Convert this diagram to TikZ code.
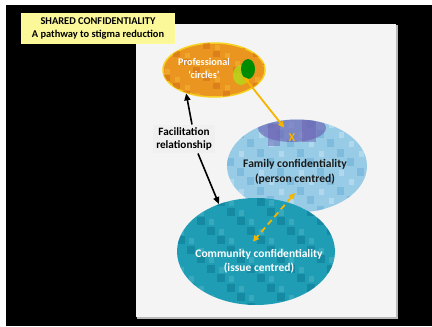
\documentclass[tikz,border=0pt]{standalone}
\usepackage{fontspec}
\setmainfont{Carlito}
\usetikzlibrary{shapes.geometric,arrows.meta}
\definecolor{panel}{HTML}{F4F4F4}
\definecolor{titleYellow}{HTML}{FBF89A}
\definecolor{profOrange}{HTML}{E9951F}
\definecolor{profDark}{HTML}{D9771A}
\definecolor{profLight}{HTML}{F2B233}
\definecolor{famBlue}{HTML}{98CCE6}
\definecolor{famDark}{HTML}{6FB0D8}
\definecolor{famPurple}{HTML}{6D63B5}
\definecolor{commTeal}{HTML}{1E9DB5}
\definecolor{commDark}{HTML}{14819B}
\definecolor{arrowGold}{HTML}{F5B500}
\tikzset{
  blob/.style={ellipse, inner sep=0pt},
  bold text/.style={font=\bfseries\fontsize{11.5}{14}\selectfont, align=center},
  gold link/.style={arrowGold, line width=1.8pt, {Triangle[length=6pt,width=6pt]}-{Triangle[length=6pt,width=6pt]}},
  black link/.style={black, line width=1.6pt, -{Triangle[length=7pt,width=6pt]}},
}

\begin{document}
\begin{tikzpicture}[x=1pt,y=-1pt]
  \useasboundingbox (0,0) rectangle (432,327);
  \fill[white] (0,0) rectangle (432,327);
  \fill[black] (6,5) rectangle (432,326);
  \fill[gray!55] (137,25) rectangle (398,319);
  \fill[panel] (136,24) rectangle (396,317);

  \node[blob, fill=famBlue, minimum width=140, minimum height=93] (family) at (297,166) {};
  \begin{scope}
    \clip (family.center) ellipse [x radius=70, y radius=46.5];
    \foreach \i in {0,...,13}
      \foreach \j in {0,...,9} {
        \pgfmathtruncatemacro\k{mod(\i*7+\j*5,4)}
        \ifnum\k=0 \fill[famDark,opacity=.6] (227+\i*10,120+\j*9.5) rectangle ++(7,8);\fi
        \ifnum\k=2 \fill[white,opacity=.25] (229+\i*10,122+\j*9.5) rectangle ++(5,6);\fi
      }
    \fill[famPurple,opacity=.65] (292,128) ellipse [x radius=34, y radius=14];
    \fill[famPurple,opacity=.5] (268,124) rectangle (280,146);
    \fill[famPurple,opacity=.5] (302,120) rectangle (316,142);
  \end{scope}

  \node[blob, fill=commTeal, minimum width=158, minimum height=107] (community) at (256,251.5) {};
  \begin{scope}
    \clip (community.center) ellipse [x radius=79, y radius=53.5];
    \foreach \i in {0,...,15}
      \foreach \j in {0,...,11} {
        \pgfmathtruncatemacro\k{mod(\i*5+\j*3,4)}
        \ifnum\k=0 \fill[commDark,opacity=.7] (177+\i*10,198+\j*9.5) rectangle ++(8,8);\fi
        \ifnum\k=1 \fill[commTeal!70!white,opacity=.4] (179+\i*10,200+\j*9.5) rectangle ++(5,6);\fi
      }
  \end{scope}

  \node[blob, fill=profOrange, draw=profLight!60!yellow, line width=1.5pt, minimum width=102, minimum height=54] (prof) at (214,70) {};
  \begin{scope}
    \clip (prof.center) ellipse [x radius=51, y radius=27];
    \foreach \i in {0,...,10}
      \foreach \j in {0,...,6} {
        \pgfmathtruncatemacro\k{mod(\i*7+\j*5,4)}
        \ifnum\k=0 \fill[profDark,opacity=.7] (163+\i*10,43+\j*8) rectangle ++(7,6);\fi
        \ifnum\k=3 \fill[profLight,opacity=.6] (165+\i*10,45+\j*8) rectangle ++(5,5);\fi
      }
    \fill[yellow!70!green,opacity=.8] (241,75) ellipse [x radius=8, y radius=10];
    \fill[green!55!black] (248,69) ellipse [x radius=7, y radius=10];
  \end{scope}
  \coordinate (spot) at (244,77);

  \node[bold text, text=white, font=\bfseries\fontsize{10.2}{13}\selectfont] (proftext) at (204,68) {Professional\\‘circles’};
  \node[bold text, text=black!90, font=\bfseries\fontsize{11.6}{15}\selectfont] (famtext) at (295,172) {Family confidentiality\\(person centred)};
  \node[bold text, text=white] (commtext) at (259,261) {Community confidentiality\\(issue centred)};
  \node[text=arrowGold, font=\bfseries\fontsize{12}{12}\selectfont] (xmark) at (292,138) {X};

  \node[bold text, fill=gray!12, inner sep=3pt, font=\bfseries\fontsize{11.2}{13}\selectfont] (facil) at (184,139) {Facilitation\\relationship};

  \node[fill=titleYellow, draw=yellow!40, line width=1pt, minimum width=153, minimum height=30, inner sep=2pt,
        font=\bfseries\fontsize{10.4}{13}\selectfont, align=center] (title) at (98,28) {SHARED CONFIDENTIALITY\\A pathway to stigma reduction};

  \draw[black link] ([xshift=8pt]facil.north) -- (prof.220);
  \draw[black link] ([xshift=14pt]facil.south) -- (community.128);
  \draw[gold link] (spot) -- ([xshift=-1pt,yshift=3pt]xmark.north west);
  \draw[gold link, dashed, dash pattern=on 6pt off 4pt] ([yshift=-5pt]famtext.south) -- ([xshift=-6pt,yshift=4pt]commtext.north);
\end{tikzpicture}
\end{document}
